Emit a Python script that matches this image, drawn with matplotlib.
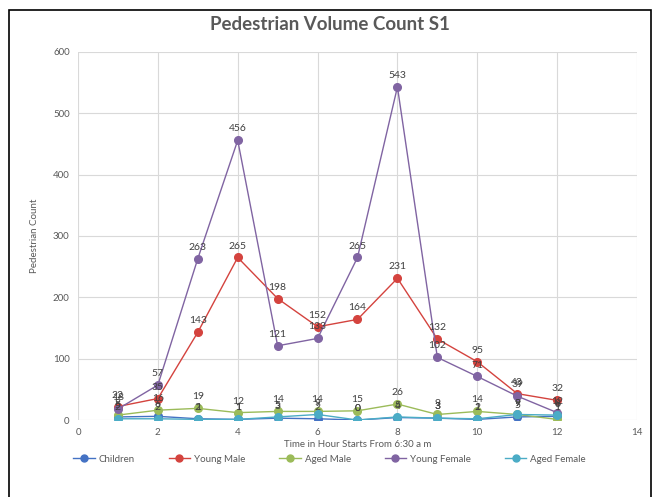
import matplotlib.pyplot as plt
from matplotlib.patches import Rectangle
from matplotlib.lines import Line2D

plt.rcParams['font.family'] = ['Lato', 'DejaVu Sans']

hours = [1, 2, 3, 4, 5, 6, 7, 8, 9, 10, 11, 12]
children = [5, 6, 2, 1, 3, 2, 0, 4, 3, 1, 5, 6]
young_male = [22, 35, 143, 265, 198, 152, 164, 231, 132, 95, 43, 32]
aged_male = [8, 16, 19, 12, 14, 14, 15, 26, 9, 14, 9, 1]
young_female = [18, 57, 263, 456, 121, 133, 265, 543, 102, 71, 39, 12]
aged_female = [2, 2, 1, 1, 5, 9, 0, 5, 3, 2, 9, 8]

series = [
    ("Children", children, "#4472c4"),
    ("Young Male", young_male, "#d4433e"),
    ("Aged Male", aged_male, "#9bbb59"),
    ("Young Female", young_female, "#8064a2"),
    ("Aged Female", aged_female, "#4bacc6"),
]

txt = "#595959"

fig = plt.figure(figsize=(6.59, 4.97), dpi=100)
ax = fig.add_axes([78 / 659, 1 - 420 / 497, (637 - 78) / 659, (420 - 52) / 497])

handles = []
for name, vals, col in series:
    ax.plot(hours, vals, color=col, lw=1.0, marker="o", ms=5.5,
            markeredgecolor=col, zorder=3)
    for x, v in zip(hours, vals):
        ax.annotate(str(v), (x, v), xytext=(0, 5), textcoords="offset points",
                    ha="center", va="bottom", fontsize=7.5, color="#404040",
                    zorder=4)
    handles.append(Line2D([], [], color=col, lw=1.0, marker="o", ms=5,
                          label=name))

ax.set_xlim(0, 14)
ax.set_ylim(0, 600)
ax.set_xticks(range(0, 15, 2))
ax.set_yticks(range(0, 601, 100))
ax.grid(True, color="#d9d9d9", lw=0.8)
ax.set_axisbelow(True)
for s in ax.spines.values():
    s.set_visible(False)
ax.tick_params(length=0, labelsize=7, labelcolor=txt, pad=6)

ax.set_xlabel("Time in Hour Starts From 6:30 a m", fontsize=7, color=txt,
              labelpad=2)
ax.set_ylabel("Pedestrian Count", fontsize=7, color=txt, labelpad=10)
fig.text(0.5, 1 - 25 / 497, "Pedestrian Volume Count S1", ha="center",
         va="center", fontsize=13.5, fontweight="bold", color=txt)

fig.legend(handles=handles, loc="center", bbox_to_anchor=(0.5, 1 - 459 / 497),
           ncol=5, frameon=False, fontsize=7, labelcolor=txt,
           handlelength=2.2, columnspacing=3.5, handletextpad=0.4)

fig.add_artist(Rectangle((9 / 659, -0.01), (651 - 9) / 659, 1 - 10 / 497 + 0.01,
                         transform=fig.transFigure, fill=False,
                         edgecolor="black", lw=1.2))

fig.savefig("out.png", dpi=100)
